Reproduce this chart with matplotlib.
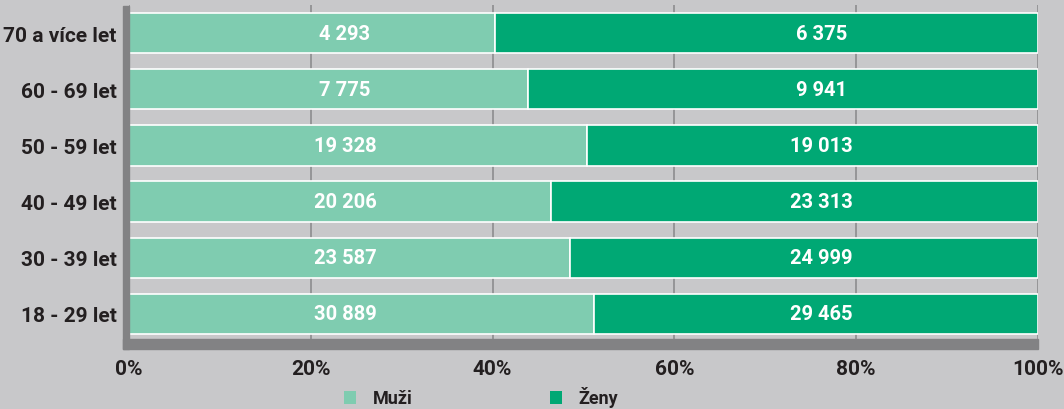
import matplotlib
matplotlib.use("Agg")
import matplotlib.pyplot as plt
from matplotlib.patches import Patch, Rectangle
import matplotlib.transforms as mtransforms
import numpy as np

plt.rcParams['font.family'] = ['Roboto', 'DejaVu Sans']

categories = ["18 - 29 let", "30 - 39 let", "40 - 49 let", "50 - 59 let", "60 - 69 let", "70 a více let"]
muzi = [30889, 23587, 20206, 19328, 7775, 4293]
zeny = [29465, 24999, 23313, 19013, 9941, 6375]
series_names = ["Muži", "Ženy"]
xticks = [0, 20, 40, 60, 80, 100]
xticklabels = ["0%", "20%", "40%", "60%", "80%", "100%"]

BG = "#c8c8ca"
C_M = "#7fccb0"
C_Z = "#00a874"
WALL = "#828284"
TXT = "#231f20"

W, H = 1064, 410
fig = plt.figure(figsize=(W / 100, H / 100), dpi=100, facecolor=BG)

# 3D-like wall and floor
fig.patches.append(Rectangle((123 / W, 1 - 350 / H), 6 / W, (350 - 7) / H,
                             transform=fig.transFigure, color=WALL, zorder=0))
fig.patches.append(Rectangle((123 / W, 1 - 350 / H), (1038 - 123) / W, 10 / H,
                             transform=fig.transFigure, color=WALL, zorder=0))

ax = fig.add_axes([129 / W, (H - 343) / H, 909 / W, 337 / H])
ax.set_facecolor("none")

m = np.array(muzi, float)
z = np.array(zeny, float)
tot = m + z
pm = m / tot * 100
pz = z / tot * 100
y = np.arange(len(categories))

ax.barh(y, pm, height=0.72, color=C_M, edgecolor="white", linewidth=1.2, zorder=3)
ax.barh(y, pz, left=pm, height=0.72, color=C_Z, edgecolor="white", linewidth=1.2, zorder=3)

trans = mtransforms.blended_transform_factory(ax.transAxes, ax.transData)
for i in range(len(categories)):
    ax.text(0.2375, y[i], f"{muzi[i]:,}".replace(",", " "), transform=trans, ha="center", va="center",
            color="white", fontsize=14.5, fontweight="bold", zorder=4)
    ax.text(0.762, y[i], f"{zeny[i]:,}".replace(",", " "), transform=trans, ha="center", va="center",
            color="white", fontsize=14.5, fontweight="bold", zorder=4)

ax.set_xlim(0, 100)
ax.set_ylim(-0.5, len(categories) - 0.5)
ax.set_xticks(xticks)
ax.set_xticklabels(xticklabels)
ax.set_yticks(y)
ax.set_yticklabels(categories)
for sp in ax.spines.values():
    sp.set_visible(False)
ax.tick_params(axis="both", length=0, labelsize=15, labelcolor=TXT)
ax.tick_params(axis="x", pad=12)
ax.tick_params(axis="y", pad=9)
for lab in ax.get_xticklabels() + ax.get_yticklabels():
    lab.set_fontweight("bold")
ax.xaxis.grid(True, color="#8c8c8e", linewidth=1.2, zorder=1)
ax.set_axisbelow(True)

handles = [Patch(facecolor=C_M, edgecolor="none"), Patch(facecolor=C_Z, edgecolor="none")]
leg = fig.legend(handles, series_names, loc="center", bbox_to_anchor=(481 / W, 1 - 398 / H),
                 ncol=2, frameon=False, handlelength=0.7, handleheight=0.7,
                 columnspacing=7.6, handletextpad=0.9, prop={"weight": "bold", "size": 13})
for t in leg.get_texts():
    t.set_color(TXT)

fig.savefig("out.png", dpi=100, facecolor=BG)
